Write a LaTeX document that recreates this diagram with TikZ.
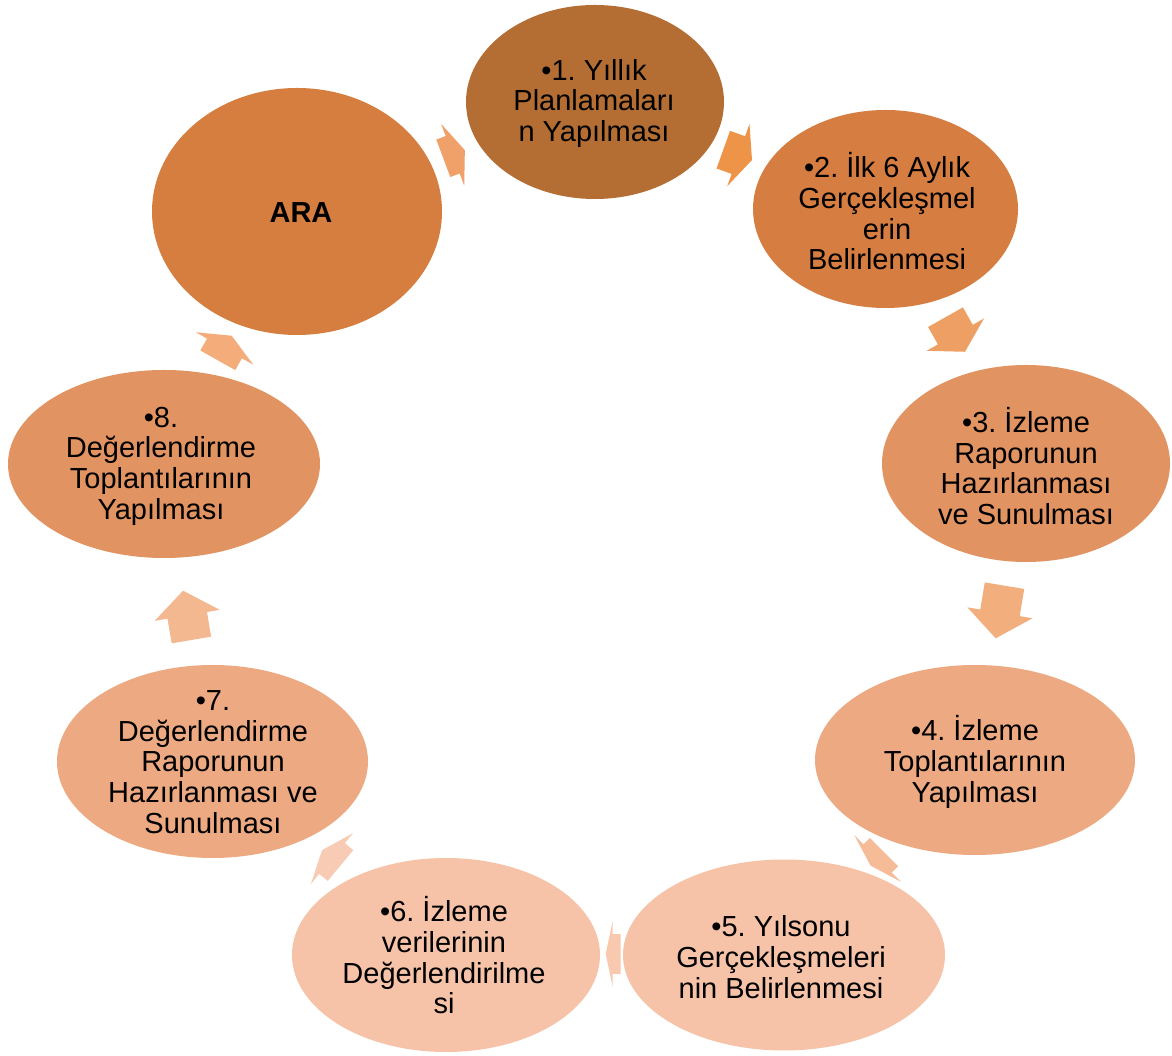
\documentclass[tikz,border=0pt]{standalone}
\usepackage{fontspec}
\setmainfont{Liberation Sans}
\usetikzlibrary{shapes.geometric}
\frenchspacing
\definecolor{eA}{HTML}{D67D40}
\definecolor{eOne}{HTML}{B46E34}
\definecolor{eTwo}{HTML}{D67D41}
\definecolor{eThree}{HTML}{E29362}
\definecolor{eFour}{HTML}{EDAA82}
\definecolor{eFive}{HTML}{F7C3A8}
\definecolor{eSix}{HTML}{F7C3A8}
\definecolor{eSeven}{HTML}{EDAA82}
\definecolor{eEight}{HTML}{E29362}
\definecolor{aZero}{HTML}{F0A069}
\definecolor{aOne}{HTML}{EE9448}
\definecolor{aTwo}{HTML}{EEA064}
\definecolor{aThree}{HTML}{F3AE7D}
\definecolor{aFour}{HTML}{F6BC98}
\definecolor{aFive}{HTML}{F8C8AF}
\definecolor{aSix}{HTML}{F8CBB4}
\definecolor{aSeven}{HTML}{F4B891}
\definecolor{aEight}{HTML}{F3AC7A}
\tikzset{
  bub/.style={ellipse, draw=none, inner sep=0pt},
  txt/.style={align=center, inner sep=0pt, text=black, font=\fontsize{29}{30.7}\selectfont},
  pics/cycarrow/.style 2 args={code={
    \fill[pic actions] (0,-20) -- (#1,-20) -- (#1,-33) -- ({#1+#2},0) -- (#1,33) -- (#1,20) -- (0,20) -- cycle;}}
}
\begin{document}
\begin{tikzpicture}[x=1pt,y=1pt]
\fill[white] (0,0) rectangle (1172,1055);
\useasboundingbox (0,0) rectangle (1172,1055);
% ellipses
\node[bub, fill=eOne, minimum width=258, minimum height=194] (n1) at (595,953) {};
\node[bub, fill=eTwo, minimum width=265, minimum height=198] (n2) at (885.5,846) {};
\node[bub, fill=eThree, minimum width=288, minimum height=197] (n3) at (1026,591.5) {};
\node[bub, fill=eFour, minimum width=320, minimum height=190] (n4) at (975,295) {};
\node[bub, fill=eFive, minimum width=322, minimum height=191] (n5) at (784,100) {};
\node[bub, fill=eSix, minimum width=308, minimum height=194] (n6) at (446,100) {};
\node[bub, fill=eSeven, minimum width=311, minimum height=193] (n7) at (212.5,293.5) {};
\node[bub, fill=eEight, minimum width=312, minimum height=188] (n8) at (164,591) {};
\node[bub, fill=eA, minimum width=290, minimum height=247] (na) at (297,843.5) {};
% texts
\node[txt] (t1) at (594,951.5) {•1. Yıllık\\Planlamaları\\n Yapılması};
\node[txt] (t2) at (887,843.5) {•2. İlk 6 Aylık\\Gerçekleşmel\\erin\\Belirlenmesi};
\node[txt] (t3) at (1026,589) {•3. İzleme\\Raporunun\\Hazırlanması\\ve Sunulması};
\node[txt] (t4) at (975,293) {•4. İzleme\\Toplantılarının\\Yapılması};
\node[txt] (t5) at (781,98) {•5. Yılsonu\\Gerçekleşmeleri\\nin Belirlenmesi};
\node[txt] (t6) at (444,99.5) {•6. İzleme\\verilerinin\\Değerlendirilme\\si};
\node[txt] (t7) at (213,293) {•7.\\Değerlendirme\\Raporunun\\Hazırlanması ve\\Sunulması};
\node[txt] (t8) at (161,589) {•8.\\Değerlendirme\\Toplantılarının\\Yapılması};
\node[txt, font=\fontsize{29}{30.7}\selectfont\bfseries] (ta) at (301,842) {ARA};
% cycle arrows
\pic[fill=aZero, rotate=20.5] at (443.3,896.7) {cycarrow={10}{13}};
\pic[fill=aOne, rotate=-19.7] at (723.3,905.3) {cycarrow={16}{14.5}};
\pic[fill=aTwo, rotate=-60.6] at (945.5,737.8) {cycarrow={20}{19.7}};
\pic[fill=aThree, rotate=-99.5] at (1004.5,469.3) {cycarrow={27.5}{25.8}};
\pic[fill=aFour, rotate=-135] at (884,202.8) {cycarrow={9}{10}};
\pic[fill=aFive, rotate=180] at (620.7,101) {cycarrow={8}{7}};
\pic[fill=aSix, rotate=140.3] at (340.5,189.5) {cycarrow={11}{13}};
\pic[fill=aSeven, rotate=99.6] at (191.4,415) {cycarrow={25}{25}};
\pic[fill=aEight, rotate=60.6] at (217.8,694.7) {cycarrow={13.6}{14.6}};
\end{tikzpicture}
\end{document}
